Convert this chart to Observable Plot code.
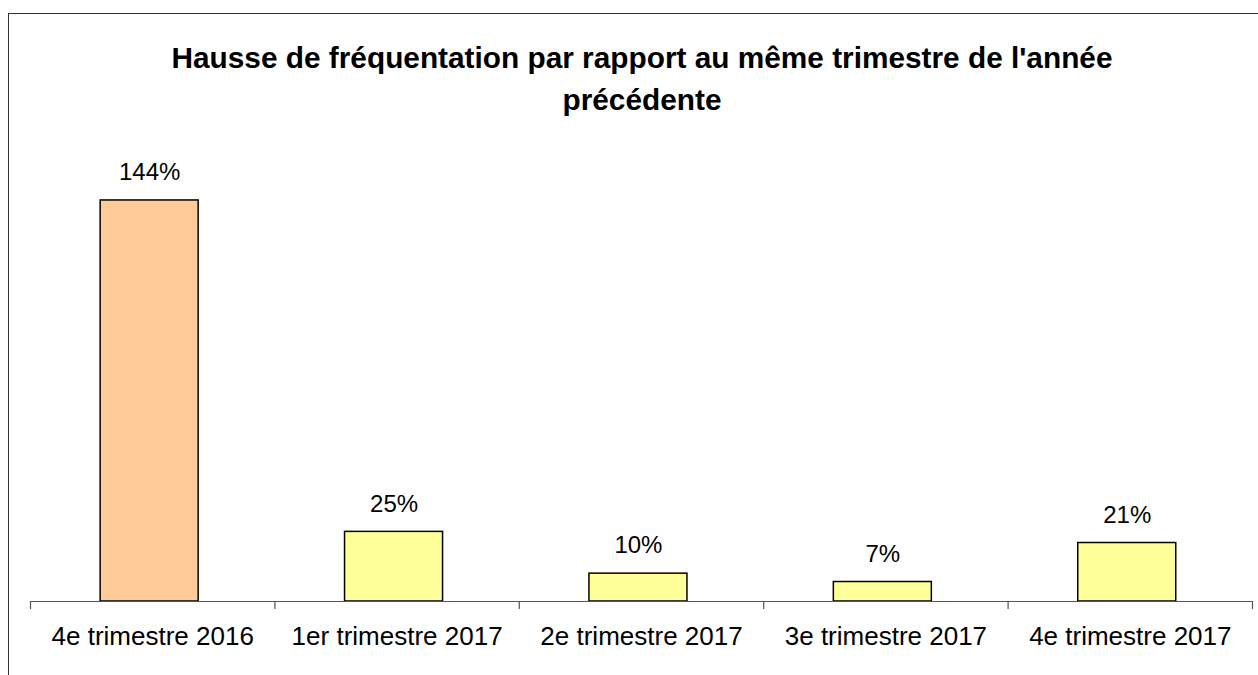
<!DOCTYPE html>
<html>
<head>
<meta charset="utf-8">
<script src="https://cdn.jsdelivr.net/npm/d3@7"></script>
<script src="https://cdn.jsdelivr.net/npm/@observablehq/plot@0.6"></script>
<style>
  html, body { margin: 0; padding: 0; background: #fff; }
  #wrap { position: relative; width: 1258px; height: 675px; overflow: hidden; font-family: "Liberation Sans", Arial, sans-serif; }
  #frame { position: absolute; left: 8px; top: 13px; width: 1300px; height: 700px; border: 1.5px solid #333; box-sizing: border-box; }
  #title { position: absolute; left: 0; top: 37px; width: 1284px; text-align: center; font-weight: bold; font-size: 29.8px; line-height: 42px; color: #000; }
  #chart { position: absolute; left: 0; top: 120px; }
</style>
</head>
<body>
<div id="wrap">
  <div id="frame"></div>
  <div id="title">Hausse de fréquentation par rapport au même trimestre de l'année<br>précédente</div>
  <div id="chart"></div>
</div>
<script>
const categories = ["4e trimestre 2016", "1er trimestre 2017", "2e trimestre 2017", "3e trimestre 2017", "4e trimestre 2017"];
const values = [144, 25, 10, 7, 21];
const labels = ["144%", "25%", "10%", "7%", "21%"];
const colors = ["#FFCC99", "#FFFF99", "#FFFF99", "#FFFF99", "#FFFF99"];

const data = categories.map((c, i) => ({
  cat: c, i, v: values[i], label: labels[i], color: colors[i],
  x1: i + 0.287, x2: i + 0.688, xc: i + 0.4875
}));

const plot = Plot.plot({
  width: 1258,
  height: 555,
  marginLeft: 30,
  marginRight: 6,
  marginTop: 35.4,
  marginBottom: 74,
  style: { fontFamily: "'Liberation Sans', Arial, sans-serif", fontSize: "24px", color: "#000", background: "transparent" },
  x: { type: "linear", domain: [0, categories.length], axis: null },
  y: { domain: [0, 160], axis: null },
  marks: [
    Plot.rectY(data, { x1: "x1", x2: "x2", y: "v", fill: "color", stroke: "#000", strokeWidth: 1.5 }),
    Plot.ruleY([0], { stroke: "#555", strokeWidth: 1.2 }),
    Plot.axisX({ ticks: d3.range(categories.length + 1), tickFormat: () => "", tickSize: 8, stroke: "#555", strokeWidth: 1.2 }),
    Plot.axisX({ ticks: d3.range(categories.length).map(i => i + 0.5), tickFormat: d => categories[Math.floor(d)], tickSize: 0, tickPadding: 25, fontSize: 26, fill: "#000" }),
    Plot.text(data, { x: "xc", y: "v", text: "label", dy: -28, fontSize: 24, fill: "#000" })
  ]
});
document.getElementById("chart").appendChild(plot);
</script>
</body>
</html>
